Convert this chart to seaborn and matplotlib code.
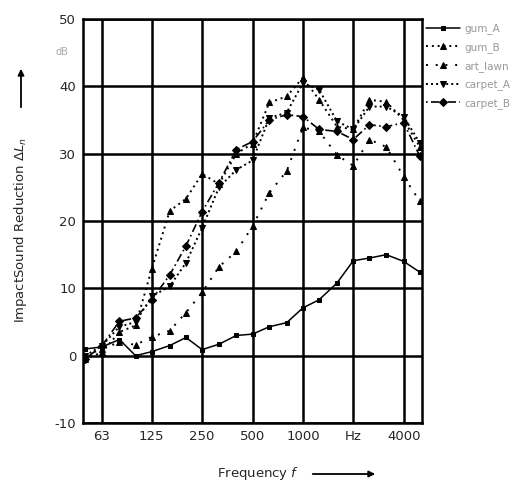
import numpy as np
import pandas as pd
import matplotlib
matplotlib.use("Agg")
import matplotlib.pyplot as plt
import seaborn as sns
from matplotlib.ticker import FixedLocator, NullFormatter

# third-octave band centre frequencies (Hz)
freqs = [50, 63, 80, 100, 125, 160, 200, 250, 315, 400, 500,
         630, 800, 1000, 1250, 1600, 2000, 2500, 3150, 4000, 5000]

gum_A = [1.0, 1.3, 2.4, 0.0, 0.6, 1.5, 2.7, 0.9, 1.7, 3.0, 3.2,
         4.3, 4.9, 7.1, 8.3, 10.8, 14.1, 14.5, 15.0, 14.0, 12.4]
gum_B = [-0.5, 0.5, 3.5, 4.5, 12.9, 21.5, 23.3, 27.0, 25.5, 30.0, 31.5,
         37.6, 38.5, 41.3, 38.0, 34.0, 33.6, 38.0, 37.7, 35.0, 31.0]
art_lawn = [0.0, 1.0, 2.0, 1.6, 2.8, 3.7, 6.4, 9.4, 13.2, 15.5, 19.2,
            24.2, 27.4, 33.9, 33.3, 29.8, 28.2, 32.1, 31.0, 26.6, 22.9]
carpet_A = [0.0, 1.5, 4.3, 5.0, 8.8, 10.3, 13.8, 19.0, 25.0, 27.6, 29.0,
            35.3, 36.1, 40.5, 39.5, 34.8, 33.6, 37.0, 37.0, 35.5, 31.6]
carpet_B = [-0.5, 1.5, 5.1, 5.6, 8.3, 12.0, 16.3, 21.4, 25.7, 30.6, 31.8,
            35.0, 35.8, 35.5, 33.6, 33.3, 32.1, 34.3, 34.0, 34.6, 29.6]

series = {"gum_A": gum_A, "gum_B": gum_B, "art_lawn": art_lawn,
          "carpet_A": carpet_A, "carpet_B": carpet_B}

major_ticks = [63, 125, 250, 500, 1000, 2000, 4000]
major_labels = ["63", "125", "250", "500", "1000", "Hz", "4000"]
y_ticks = [-10, 0, 10, 20, 30, 40, 50]

styles = {
    "gum_A":    dict(linestyle="-", marker="s", markersize=2.8, linewidth=1.1),
    "gum_B":    dict(linestyle=(0, (1, 2)), marker="^", markersize=4.2, linewidth=1.4),
    "art_lawn": dict(linestyle=(0, (1, 4)), marker="^", markersize=5, linewidth=1.4),
    "carpet_A": dict(linestyle=(0, (1, 1.6)), marker="v", markersize=4.8, linewidth=1.4),
    "carpet_B": dict(linestyle=(0, (1, 2, 5, 2)), marker="D", markersize=3.6, linewidth=1.2),
}

sns.set_style("white")
plt.rcParams["font.family"] = ["DejaVu Sans"]

fig = plt.figure(figsize=(5.27, 4.87), dpi=100)
ax = fig.add_axes([83 / 527, 1 - 423 / 487, (422 - 83) / 527, (423 - 19) / 487])

for name, vals in series.items():
    df = pd.DataFrame({"f": freqs, "L": vals})
    sns.lineplot(data=df, x="f", y="L", ax=ax, color="black", label=name,
                 markeredgecolor="black", **styles[name])

ax.set_xscale("log")
ax.set_xlim(48.5, 5150)
ax.set_ylim(-10, 50)

ax.xaxis.set_major_locator(FixedLocator(major_ticks))
ax.set_xticklabels(major_labels)
ax.xaxis.set_minor_locator(FixedLocator([f for f in freqs if f not in major_ticks]))
ax.xaxis.set_minor_formatter(NullFormatter())
ax.set_yticks(y_ticks)
ax.set_yticklabels([str(v) for v in y_ticks])
ax.yaxis.set_minor_locator(FixedLocator([-5, 5, 15, 25, 35, 45]))

ax.grid(True, which="major", color="black", linewidth=1.8)
for s in ax.spines.values():
    s.set_color("black")
    s.set_linewidth(1.8)

ax.tick_params(axis="both", which="major", length=0, pad=5, labelsize=9.5)
ax.tick_params(axis="x", which="minor", direction="in", length=3, width=1.5, colors="black")
ax.tick_params(axis="y", which="minor", direction="out", length=3, width=1.5, colors="black")
ax.set_xlabel("")
ax.set_ylabel("")

# unit marker next to the top of the value axis
fig.text(62 / 527, 1 - 52 / 487, "dB", color="#aaaaaa", fontsize=7, ha="center", va="center")

# axis titles with direction arrows
fig.text(21 / 527, 1 - 230 / 487, "ImpactSound Reduction $\\Delta L_n$", rotation=90,
         ha="center", va="center", fontsize=9.5)
fig.add_artist(matplotlib.patches.FancyArrowPatch(
    (21 / 527, 1 - 110 / 487), (21 / 527, 1 - 66 / 487), transform=fig.transFigure,
    arrowstyle="-|>", mutation_scale=9, color="black", linewidth=1.3))
fig.text(258 / 527, 1 - 473 / 487, "Frequency $f$", ha="center", va="center", fontsize=9.5)
fig.add_artist(matplotlib.patches.FancyArrowPatch(
    (310 / 527, 1 - 474 / 487), (378 / 527, 1 - 474 / 487), transform=fig.transFigure,
    arrowstyle="-|>", mutation_scale=9, color="black", linewidth=1.3))

leg = ax.legend(loc="upper left", bbox_to_anchor=(1.0, 1.0), frameon=False,
                fontsize=7.5, handlelength=3.2, handletextpad=0.5,
                labelspacing=0.75, borderaxespad=0.1, borderpad=0.3)
for t in leg.get_texts():
    t.set_color("#999999")

fig.savefig("out.png", dpi=100)
